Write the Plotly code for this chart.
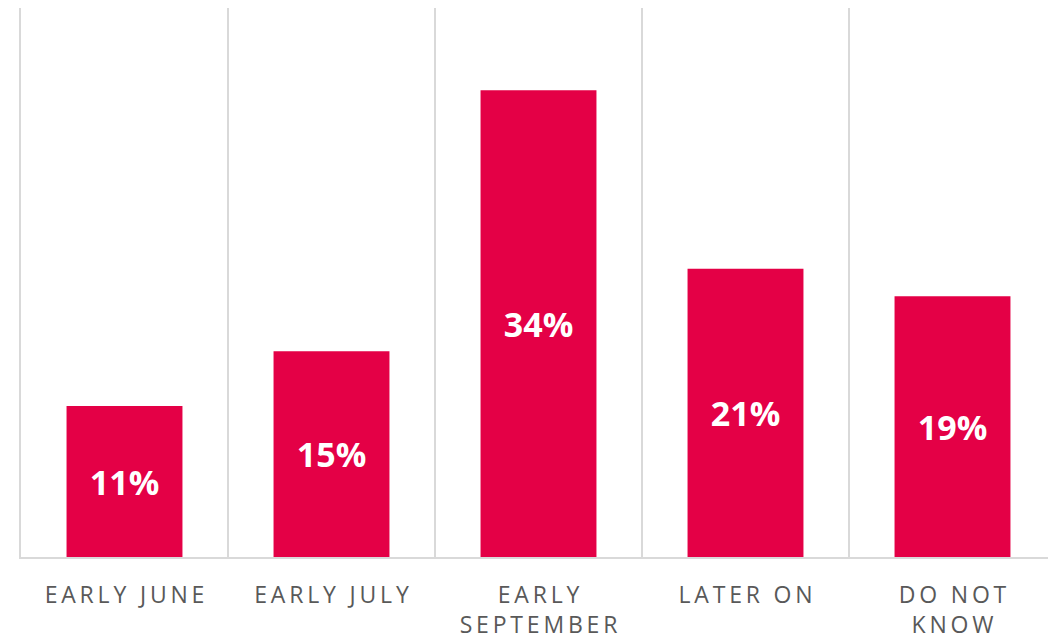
import plotly.graph_objects as go

categories = ["EARLY JUNE", "EARLY JULY", "EARLY<br>SEPTEMBER", "LATER ON", "DO NOT<br>KNOW"]
values = [11, 15, 34, 21, 19]
labels = ["11%", "15%", "34%", "21%", "19%"]

SP = "\u2009"

def spaced(s):
    out = []
    for line in s.split("<br>"):
        out.append(SP.join(list(line)))
    return "<br>".join(out)

tick_text = [spaced(c) for c in categories]

fig = go.Figure(go.Bar(
    x=categories,
    y=values,
    text=labels,
    textposition="inside",
    insidetextanchor="middle",
    textfont=dict(family="Open Sans", size=34, color="white", weight="bold"),
    marker=dict(color="#E40046", line=dict(width=0)),
    hoverinfo="skip",
))

fig.update_layout(
    width=1056, height=640,
    margin=dict(l=13, r=8, t=0, b=91),
    paper_bgcolor="white", plot_bgcolor="white",
    bargap=0.44,
    showlegend=False,
    uniformtext=dict(minsize=10, mode="show"),
)
fig.update_xaxes(
    type="category",
    tickson="boundaries",
    tickvals=categories,
    ticktext=tick_text,
    showgrid=True, gridcolor="#D9D9D9", gridwidth=1.5,
    showline=True, linecolor="#D9D9D9", linewidth=2,
    ticks="outside", ticklen=39, tickcolor="rgba(0,0,0,0)",
    ticklabelstandoff=16,
    tickfont=dict(family="Open Sans", size=23, color="#595959"),
    range=[-0.5, 4.5],
)
fig.update_yaxes(
    range=[0, 40], showgrid=False, zeroline=False,
    showline=True, linecolor="#D9D9D9", linewidth=1.5,
    showticklabels=False, ticks="",
)

fig.write_html("out.html")
